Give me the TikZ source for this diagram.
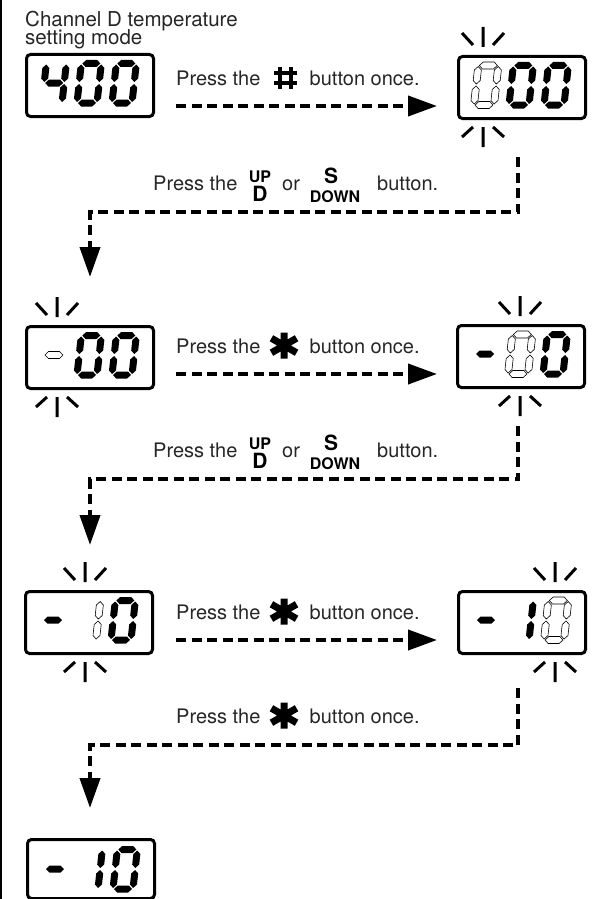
\documentclass[tikz,border=0pt]{standalone}
\usepackage{fontspec}
\setmainfont{TeX Gyre Heros}
\usetikzlibrary{arrows.meta}
\definecolor{txt}{gray}{0.15}
\tikzset{
 segon/.style={fill=black},
 segoff/.style={draw=black,line width=0.6pt,fill=white},
 segno/.style={},
 lcdbox/.style={draw=black,line width=3pt,rounded corners=4pt,minimum width=127pt,minimum height=62pt,anchor=north west,inner sep=0pt},
 spark/.style={line width=3pt},
 flow/.style={line width=4pt,dash pattern=on 10pt off 5.5pt},
 harrow/.style={flow,-{Triangle[length=29pt,width=20pt]}},
 varrow/.style={flow,-{Triangle[length=30pt,width=20pt]}},
 lbl/.style={anchor=base west,inner sep=0pt,font=\fontsize{20}{16}\selectfont,text=txt},
 blbl/.style={anchor=base,inner sep=0pt,text=black},
}
\newcommand\hsg[4]{\path[#1] ({#2+1},{#4}) -- ({#2+4.5},{#4+3.5}) -- ({#3-4.5},{#4+3.5}) -- ({#3-1},{#4}) -- ({#3-4.5},{#4-3.5}) -- ({#2+4.5},{#4-3.5}) -- cycle;}
\newcommand\vsg[4]{\path[#1] ({#2},{#3+1}) -- ({#2+3.5},{#3+4.5}) -- ({#2+3.5},{#4-4.5}) -- ({#2},{#4-1}) -- ({#2-3.5},{#4-4.5}) -- ({#2-3.5},{#3+4.5}) -- cycle;}
\newcommand\dg[9]{\begin{scope}[shift={(#1,-#2)},xslant=0.11]
\hsg{#3}{0}{20}{39.5}\vsg{#4}{20}{20}{39.5}\vsg{#5}{20}{0}{20}\hsg{#6}{0}{20}{0}\vsg{#7}{0}{0}{20}\vsg{#8}{0}{20}{39.5}\hsg{#9}{0}{20}{20}\end{scope}}
\newcommand\dzero[3]{\dg{#1}{#2}{#3}{#3}{#3}{#3}{#3}{#3}{segno}}
\newcommand\done[3]{\dg{#1}{#2}{segno}{#3}{#3}{segno}{segno}{segno}{segno}}
\newcommand\dfour[3]{\dg{#1}{#2}{segno}{#3}{#3}{segno}{segno}{#3}{#3}}
\newcommand\mn[4]{\hsg{#1}{#2}{#3}{-#4}}
\newcommand\spk[3]{\draw[spark] (#1,{28-#2}) -- (#1,{8-#2}) ({#1-21},{22-#2}) -- ({#1-10},{10-#2}) ({#1+21},{22-#2}) -- ({#1+10},{10-#2}) (#1,{-#3-10}) -- (#1,{-#3-30}) ({#1-10},{-#3-10}) -- ({#1-21},{-#3-20}) ({#1+10},{-#3-10}) -- ({#1+21},{-#3-20});}
\newcommand\hashicon[1]{\begin{scope}[shift={(285.5,{7-#1})}]\draw[line width=4.5pt] (-5.5,-11)--(-5.5,11) (5.5,-11)--(5.5,11) (-11.5,-5)--(11.5,-5) (-11.5,5)--(11.5,5);\end{scope}}
\newcommand\staricon[1]{\begin{scope}[shift={(284,{7.5-#1})}]\draw[line width=7pt] (0,-13)--(0,13) (-30:14.5)--(150:14.5) (30:14.5)--(210:14.5);\end{scope}}
\newcommand\pressonce[3]{\node[lbl] (#1a) at (176,-#2) {Press the};#3{#2}\node[lbl] (#1b) at (309.5,-#2) {button once.};}
\newcommand\pressud[2]{%
 \node[lbl] (#1a) at (153,-#2) {Press the};
 \node[blbl,font=\fontsize{16}{16}\selectfont\bfseries] (#1u) at (260,{8-#2}) {UP};
 \node[blbl,font=\fontsize{21}{21}\selectfont\bfseries] (#1d) at (260,{-#2-11}) {D};
 \node[lbl] (#1o) at (282,-#2) {or};
 \node[blbl,font=\fontsize{21}{21}\selectfont\bfseries] (#1s) at (331,{7-#2}) {S};
 \node[blbl,font=\fontsize{16}{16}\selectfont\bfseries] (#1w) at (335,{-#2-12}) {DOWN};
 \node[lbl] (#1b) at (377,-#2) {button.};}
\begin{document}
\begin{tikzpicture}[x=1pt,y=1pt]
\useasboundingbox (0,0) rectangle (602,-899);
\draw[line width=1.5pt] (1,0) -- (1,-899);
% title
\node[lbl,font=\fontsize{20.5}{16}\selectfont] (t1) at (25,-26.5) {Channel D temperature};
\node[lbl,font=\fontsize{20.5}{16}\selectfont] (t2) at (25,-45) {setting mode};
% displays
\node[lcdbox] (d1) at (25,-53) {};
\dfour{42}{103}{segon}\dzero{77}{103}{segon}\dzero{112}{103}{segon}
\node[lcdbox] (d2) at (457,-55) {};
\dzero{474}{105}{segoff}\dzero{509}{105}{segon}\dzero{544}{105}{segon}
\spk{483}{55}{117}
\node[lcdbox] (d3) at (25,-325) {};
\mn{segoff}{44}{64}{355}\dzero{77}{375}{segon}\dzero{112}{375}{segon}
\spk{57}{325}{387}
\node[lcdbox] (d4) at (456,-324) {};
\mn{segon}{475}{495}{354}\dzero{508}{374}{segoff}\dzero{543}{374}{segon}
\spk{520}{324}{386}
\node[lcdbox] (d5) at (24,-590) {};
\mn{segon}{43}{63}{620}\done{76}{640}{segoff}\dzero{111}{640}{segon}
\spk{85}{590}{652}
\node[lcdbox] (d6) at (457,-590) {};
\mn{segon}{476}{496}{620}\done{509}{640}{segon}\dzero{544}{640}{segoff}
\spk{555}{590}{652}
\node[lcdbox,minimum height=59pt] (d7) at (26,-838) {};
\mn{segon}{45}{65}{869}\done{78}{889}{segon}\dzero{113}{889}{segon}
% labels
\pressonce{r1}{85}{\hashicon}
\pressud{c1}{190}
\pressonce{r2}{353}{\staricon}
\pressud{c2}{457}
\pressonce{r3}{619}{\staricon}
\pressonce{c3}{723}{\staricon}
% connectors
\coordinate (h1s) at (176,-106); \coordinate (h1e) at (437,-106);
\coordinate (h2s) at (176,-374); \coordinate (h2e) at (437,-374);
\coordinate (h3s) at (176,-640); \coordinate (h3e) at (437,-640);
\draw[harrow] (h1s) -- (h1e);
\draw[harrow] (h2s) -- (h2e);
\draw[harrow] (h3s) -- (h3e);
\coordinate (v1s) at (518,-157); \coordinate (v1a) at (518,-212); \coordinate (v1b) at (90,-212); \coordinate (v1e) at (90,-277);
\coordinate (v2s) at (518,-426); \coordinate (v2a) at (518,-479); \coordinate (v2b) at (90,-479); \coordinate (v2e) at (90,-545);
\coordinate (v3s) at (518,-688); \coordinate (v3a) at (518,-745); \coordinate (v3b) at (90,-745); \coordinate (v3e) at (90,-808);
\draw[varrow] (v1s) -- (v1a) -- (v1b) -- (v1e);
\draw[varrow] (v2s) -- (v2a) -- (v2b) -- (v2e);
\draw[varrow] (v3s) -- (v3a) -- (v3b) -- (v3e);
\end{tikzpicture}
\end{document}
